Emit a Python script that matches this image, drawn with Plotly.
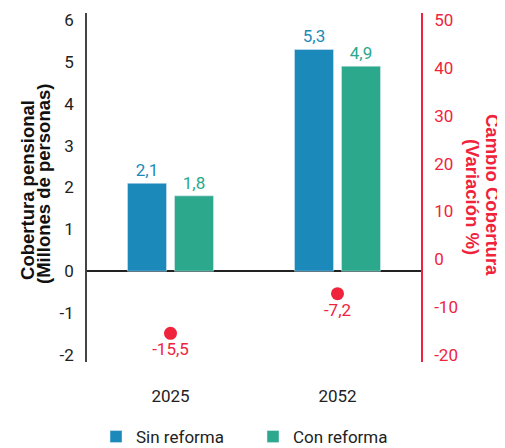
import plotly.graph_objects as go

categories = ["2025", "2052"]
sin_reforma = [2.1, 5.3]
con_reforma = [1.8, 4.9]
cambio = [-15.5, -7.2]
left_ticks = [-2, -1, 0, 1, 2, 3, 4, 5, 6]
right_ticks = [-20, -10, 0, 10, 20, 30, 40, 50]

BLUE = "#1b8aba"
GREEN = "#2ca88c"
RED = "#f0233c"
FONT = "Roboto"
TFONT = "Liberation Sans"


def fmt(v):
    return f"{v:.1f}".replace(".", ",")


fig = go.Figure()
fig.add_trace(go.Bar(
    x=categories, y=sin_reforma, name="Sin reforma",
    marker_color=BLUE, text=[fmt(v) for v in sin_reforma], textposition="outside",
    textfont=dict(color=BLUE, size=17, family=FONT), cliponaxis=False,
))
fig.add_trace(go.Bar(
    x=categories, y=con_reforma, name="Con reforma",
    marker_color=GREEN, text=[fmt(v) for v in con_reforma], textposition="outside",
    textfont=dict(color=GREEN, size=17, family=FONT), cliponaxis=False,
))
fig.add_trace(go.Scatter(
    x=categories, y=cambio, yaxis="y2", mode="markers+text",
    marker=dict(color=RED, size=13), text=[fmt(v) for v in cambio],
    textposition="bottom center", textfont=dict(color=RED, size=17, family=FONT),
    showlegend=False, cliponaxis=False,
))

title_font_l = dict(size=18.5, color="#111111", family=TFONT)
title_font_r = dict(size=18.5, color=RED, family=TFONT)

fig.update_layout(
    width=497, height=440,
    margin=dict(l=79, r=84, t=5, b=86),
    plot_bgcolor="white", paper_bgcolor="white",
    font=dict(family=FONT, size=17, color="#222222"),
    barmode="group", bargap=0.437, bargroupgap=0.17,
    xaxis=dict(showline=False, ticks="", showgrid=False, automargin=False,
               ticklabelstandoff=22, tickfont=dict(size=17, color="#222222")),
    yaxis=dict(range=[-2.17, 6.17], tickvals=left_ticks, ticktext=[str(v) for v in left_ticks],
               showgrid=False, zeroline=True, zerolinecolor="#222222", zerolinewidth=1.5,
               showline=True, linecolor="#444444", linewidth=1.5, ticks="", automargin=False,
               ticklabelstandoff=8, tickfont=dict(size=17, color="#222222")),
    yaxis2=dict(range=[-21.5, 51.5], tickvals=right_ticks, ticktext=[str(v) for v in right_ticks],
                overlaying="y", side="right", showgrid=False, zeroline=False,
                showline=True, linecolor=RED, linewidth=1.5, ticks="", automargin=False,
                ticklabelstandoff=8, tickfont=dict(size=17, color=RED)),
    legend=dict(orientation="h", x=0.027, xanchor="left", yref="container", y=0.025,
                yanchor="middle", font=dict(size=17, color="#222222"), entrywidth=112),
    annotations=[
        dict(text="<b>Cobertura pensional</b>", xref="paper", yref="paper",
             x=-0.1766, y=0.493, xanchor="center", yanchor="middle", textangle=-90,
             showarrow=False, font=title_font_l),
        dict(text="<b>(Millones de personas)</b>", xref="paper", yref="paper",
             x=-0.1317, y=0.51, xanchor="center", yanchor="middle", textangle=-90,
             showarrow=False, font=title_font_l),
        dict(text="<b>Cambio Cobertura</b>", xref="paper", yref="paper",
             x=1.2156, y=0.4785, xanchor="center", yanchor="middle", textangle=90,
             showarrow=False, font=title_font_r),
        dict(text="<b>(Variación %)</b>", xref="paper", yref="paper",
             x=1.1527, y=0.473, xanchor="center", yanchor="middle", textangle=90,
             showarrow=False, font=title_font_r),
    ],
)

fig.write_html("out.html")
